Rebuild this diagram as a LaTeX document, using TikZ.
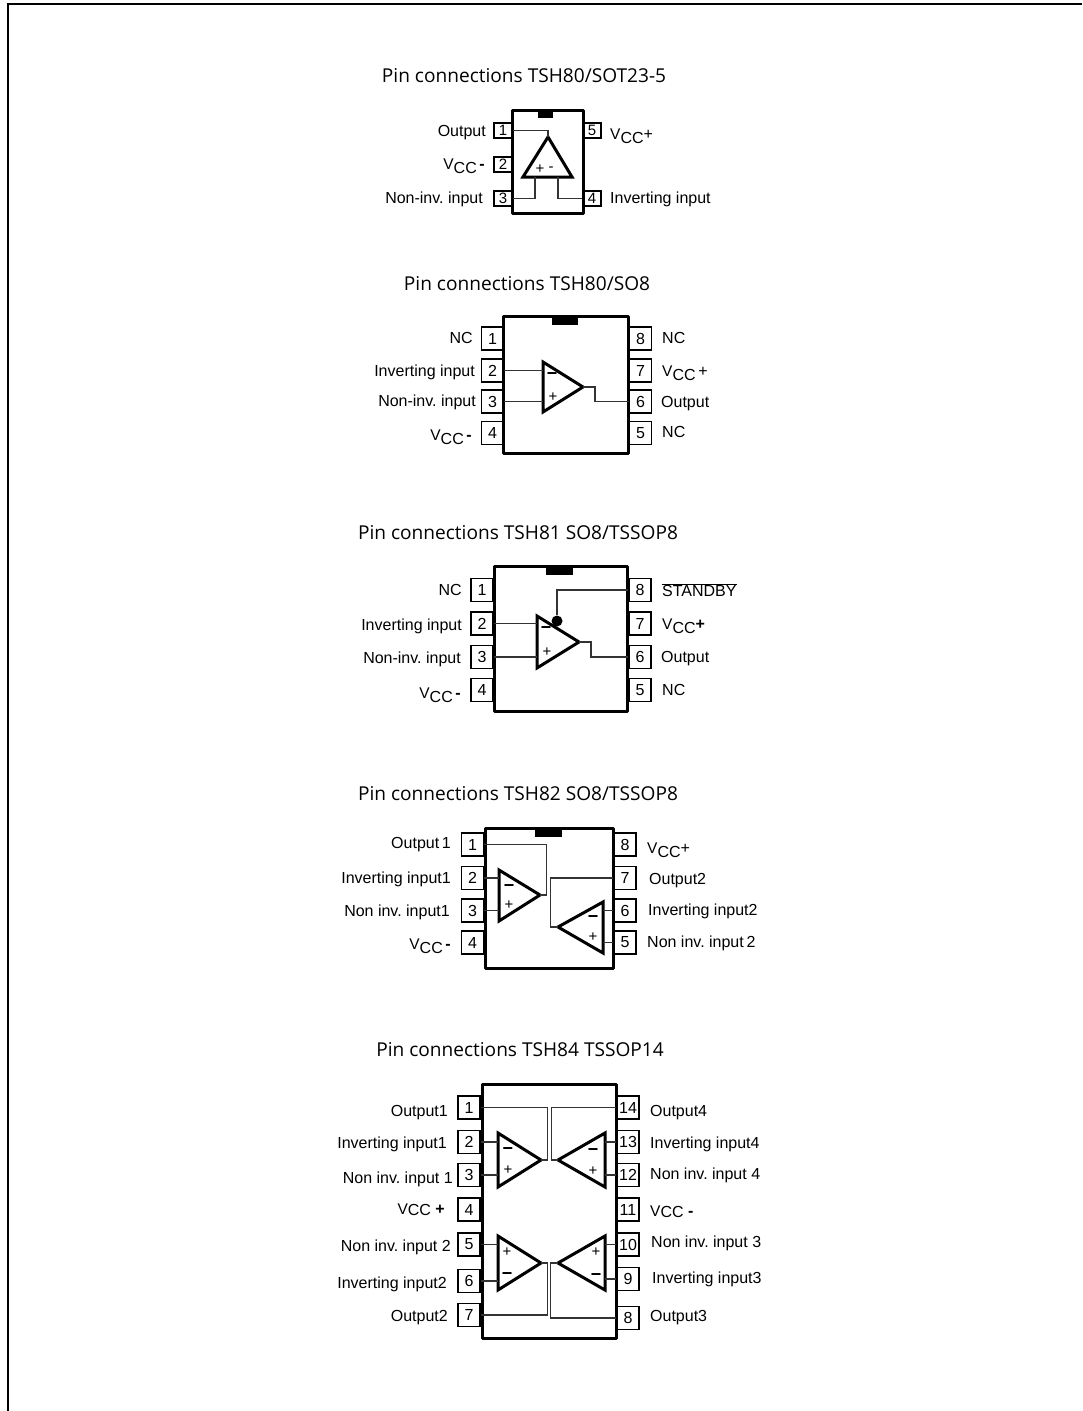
\documentclass[tikz,border=0pt]{standalone}
\usepackage{fontspec}
\usepackage{tikz}
\setmainfont{Liberation Sans}
\newfontfamily\titlefont{Open Sans}
\frenchspacing
\newcommand{\vcc}{{\fontsize{15.5}{15.5}\selectfont V}\raisebox{-3.5pt}{CC}}
\newcommand{\vccflat}{{\fontsize{15.5}{15.5}\selectfont V}\raisebox{-1pt}{CC}}
\tikzset{
  pinbox/.style={draw,line width=1.6pt,minimum width=22pt,minimum height=23pt,inner sep=0pt,font=\fontsize{16}{18}\selectfont},
  smallpin/.style={pinbox,minimum width=18pt,minimum height=15pt,font=\fontsize{15}{15}\selectfont},
  lbl/.style={inner sep=0pt,text height=11.5pt,text depth=0pt,font=\fontsize{16}{18}\selectfont},
  lbll/.style={lbl,anchor=east},
  lblr/.style={lbl,anchor=west},
  titlelbl/.style={inner sep=0pt,font=\titlefont\fontsize{19.1}{22}\selectfont},
  sign/.style={inner sep=0pt,font=\fontsize{15}{15}\selectfont},
  minusbar/.style={inner sep=0pt,font=\bfseries\fontsize{18}{18}\selectfont},
  body/.style={line width=3pt,line join=round},
  notch/.style={fill=black},
  opamp/.style={line width=3pt,line join=miter},
  wire/.style={line width=1.1pt,black!80}
}
\begin{document}
\begin{tikzpicture}[x=1pt,y=-1pt]
\useasboundingbox (0,0) rectangle (1082,1411);
\draw[line width=2pt] (8,1411) -- (8,3.5) -- (1082,3.5);

\node[titlelbl] (ta) at (524,76) {Pin connections TSH80/SOT23-5};
\draw[body] (512,110) rectangle (583,213);
\fill[notch] (538,110) rectangle (553,118);
\node[smallpin] (a1) at (503,130.5) {1};
\node[smallpin] (a2) at (503,164.5) {2};
\node[smallpin] (a3) at (503,198.5) {3};
\node[smallpin] (a4) at (592,198.5) {4};
\node[smallpin] (a5) at (592,130.5) {5};
\node[lbll] (la1) at (486,131) {Output};
\node[lbll] (la2) at (485,164) {\vcc\,\textbf{-}};
\node[lbll] (la3) at (483,198) {Non-inv. input};
\node[lblr] (la4) at (610,198) {Inverting input};
\node[lblr] (la5) at (610,134) {\vcc+};
\coordinate (atop) at (548,137);
\coordinate (al) at (523,177);
\coordinate (ar) at (572,177);
\coordinate (ap) at (535,177);
\coordinate (am) at (558,177);
\draw[opamp] (atop) -- (al) -- (ar) -- cycle;
\draw[wire] (a1.east) -| (atop);
\draw[wire] (a3.east) -| (ap);
\draw[wire] (a4.west) -| (am);
\node[sign] (apl) at (540,169) {+};
\node[sign] (ami) at (551,169) {-};

\node[titlelbl] (tb) at (527,284) {Pin connections TSH80/SO8};
\draw[body] (503,316) rectangle (628,453);
\fill[notch] (552,316) rectangle (578,325);
\node[pinbox] (b1) at (492.5,338.5) {1};
\node[pinbox] (b2) at (492.5,370.5) {2};
\node[pinbox] (b3) at (492.5,401.5) {3};
\node[pinbox] (b4) at (492.5,433) {4};
\node[pinbox] (b5) at (640.5,433) {5};
\node[pinbox] (b6) at (640.5,401.5) {6};
\node[pinbox] (b7) at (640.5,370.5) {7};
\node[pinbox] (b8) at (640.5,338.5) {8};
\node[lbll] (lb1) at (473,338) {NC};
\node[lbll] (lb2) at (475,371) {Inverting input};
\node[lbll] (lb3) at (476,401) {Non-inv. input};
\node[lbll] (lb4) at (472,435) {\vcc\,\textbf{-}};
\node[lblr] (lb5) at (662,432) {NC};
\node[lblr] (lb6) at (661,402) {Output};
\node[lblr] (lb7) at (662,371) {\vcc\,+};
\node[lblr] (lb8) at (662,338) {NC};
\coordinate (bt) at (543,362);
\coordinate (bb) at (543,412);
\coordinate (bo) at (583,387);
\draw[opamp] (bt) -- (bb) -- (bo) -- cycle;
\draw[wire] (b2.east) -- (b2.east -| bt);
\draw[wire] (b3.east) -- (b3.east -| bt);
\draw[wire] (bo) -- ++(12,0) |- (b6.west);
\node[minusbar] (bmi) at (552,376) {−};
\node[sign] (bpl) at (553,397) {+};

\node[titlelbl] (tc) at (518,533) {Pin connections TSH81 SO8/TSSOP8};
\draw[body] (494,566) rectangle (627,711);
\fill[notch] (546,566) rectangle (573,575);
\node[pinbox] (c1) at (482,590) {1};
\node[pinbox] (c2) at (482,623.5) {2};
\node[pinbox] (c3) at (482,657) {3};
\node[pinbox] (c4) at (482,690) {4};
\node[pinbox] (c5) at (640,690) {5};
\node[pinbox] (c6) at (640,657) {6};
\node[pinbox] (c7) at (640,623.5) {7};
\node[pinbox] (c8) at (640,590) {8};
\node[lbll] (lc1) at (462,590) {NC};
\node[lbll] (lc2) at (462,625) {Inverting input};
\node[lbll] (lc3) at (461,658) {Non-inv. input};
\node[lbll] (lc4) at (461,693) {\vcc\,\textbf{-}};
\node[lblr] (lc5) at (662,690) {NC};
\node[lblr] (lc6) at (661,657) {Output};
\node[lblr] (lc7) at (662,624) {\vcc\textbf{+}};
\node[lblr] (lc8) at (662,591) {$\overline{\mbox{STANDBY}}$};
\coordinate (ct) at (537,616);
\coordinate (cb) at (537,668);
\coordinate (co) at (579,642);
\draw[opamp] (ct) -- (cb) -- (co) -- cycle;
\draw[wire] (c2.east) -- (c2.east -| ct);
\draw[wire] (c3.east) -- (c3.east -| ct);
\draw[wire] (co) -- ++(12,0) |- (c6.west);
\node[circle,fill=black,inner sep=0pt,minimum size=11pt] (cdot) at (557,621) {};
\draw[wire] (c8.west) -| (cdot);
\node[minusbar] (cmi) at (546,630) {−};
\node[sign] (cpl) at (547,652) {+};

\node[titlelbl] (td) at (518,794) {Pin connections TSH82 SO8/TSSOP8};
\draw[body] (485,828) rectangle (613,968);
\fill[notch] (535,828) rectangle (562,837);
\node[pinbox] (d1) at (472.5,844.5) {1};
\node[pinbox] (d2) at (472.5,878) {2};
\node[pinbox] (d3) at (472.5,910.5) {3};
\node[pinbox] (d4) at (472.5,942.5) {4};
\node[pinbox] (d5) at (625,942.5) {5};
\node[pinbox] (d6) at (625,910.5) {6};
\node[pinbox] (d7) at (625,878) {7};
\node[pinbox] (d8) at (625,844.5) {8};
\node[lbll] (ld1) at (451,843) {Output\,1};
\node[lbll] (ld2) at (451,878) {Inverting input1};
\node[lbll] (ld3) at (450,911) {Non inv. input1};
\node[lbll] (ld4) at (451,944) {\vcc\,\textbf{-}};
\node[lblr] (ld5) at (647,942) {Non inv. input\,2};
\node[lblr] (ld6) at (648,910) {Inverting input2};
\node[lblr] (ld7) at (649,879) {Output2};
\node[lblr] (ld8) at (647,848) {\vcc+};
\coordinate (dat) at (499,870);
\coordinate (dab) at (499,921);
\coordinate (dao) at (540,895);
\coordinate (dbt) at (603,902);
\coordinate (dbb) at (603,953);
\coordinate (dbo) at (558,927);
\draw[opamp] (dat) -- (dab) -- (dao) -- cycle;
\draw[opamp] (dbt) -- (dbb) -- (dbo) -- cycle;
\draw[wire] (d1.east) -- ++(62.5,0) |- (dao);
\draw[wire] (d2.east) -- (d2.east -| dat);
\draw[wire] (d3.east) -- (d3.east -| dat);
\draw[wire] (d7.west) -- ++(-63,0) |- (dbo);
\draw[wire] (d6.west) -- (d6.west -| dbt);
\draw[wire] (d5.west) -- (d5.west -| dbt);
\node[minusbar] (dami) at (509,888) {−};
\node[sign] (dapl) at (509,905) {+};
\node[minusbar] (dbmi) at (593,919) {−};
\node[sign] (dbpl) at (593,937) {+};

\node[titlelbl] (te) at (520,1050) {Pin connections TSH84 TSSOP14};
\draw[body] (482,1084) rectangle (616,1338);
\node[pinbox] (e1) at (469,1107.5) {1};
\node[pinbox] (e2) at (469,1142) {2};
\node[pinbox] (e3) at (469,1175) {3};
\node[pinbox] (e4) at (469,1209.5) {4};
\node[pinbox] (e5) at (469,1244.5) {5};
\node[pinbox] (e6) at (469,1281) {6};
\node[pinbox] (e7) at (469,1315) {7};
\node[pinbox] (e8) at (628,1318) {8};
\node[pinbox] (e9) at (628,1279) {9};
\node[pinbox] (e10) at (628,1244.5) {10};
\node[pinbox] (e11) at (628,1209.5) {11};
\node[pinbox] (e12) at (628,1175) {12};
\node[pinbox] (e13) at (628,1142) {13};
\node[pinbox] (e14) at (628,1107.5) {14};
\node[lbll] (le1) at (448,1111) {Output1};
\node[lbll] (le2) at (447,1143) {Inverting input1};
\node[lbll] (le3) at (453,1178) {Non inv. input 1};
\node[lbll] (le4) at (445,1209) {\vccflat\ \textbf{+}};
\node[lbll] (le5) at (451,1246) {Non inv. input 2};
\node[lbll] (le6) at (447,1283) {Inverting input2};
\node[lbll] (le7) at (448,1316) {Output2};
\node[lblr] (le8) at (650,1316) {Output3};
\node[lblr] (le9) at (652,1278) {Inverting input3};
\node[lblr] (le10) at (651,1242) {Non inv. input 3};
\node[lblr] (le11) at (650,1211) {\vccflat\ \textbf{-}};
\node[lblr] (le12) at (650,1174) {Non inv. input 4};
\node[lblr] (le13) at (650,1143) {Inverting input4};
\node[lblr] (le14) at (650,1111) {Output4};
\coordinate (eat) at (498,1133);
\coordinate (eab) at (498,1187);
\coordinate (eao) at (541,1160);
\coordinate (edt) at (605,1133);
\coordinate (edb) at (605,1187);
\coordinate (edo) at (558,1160);
\coordinate (ebt) at (498,1236);
\coordinate (ebb) at (498,1290);
\coordinate (ebo) at (541,1263);
\coordinate (ect) at (605,1236);
\coordinate (ecb) at (605,1290);
\coordinate (eco) at (558,1263);
\draw[opamp] (eat) -- (eab) -- (eao) -- cycle;
\draw[opamp] (edt) -- (edb) -- (edo) -- cycle;
\draw[opamp] (ebt) -- (ebb) -- (ebo) -- cycle;
\draw[opamp] (ect) -- (ecb) -- (eco) -- cycle;
\draw[wire] (e1.east) -- ++(67,0) |- (eao);
\draw[wire] (e14.west) -- ++(-65,0) |- (edo);
\draw[wire] (e7.east) -- ++(67,0) |- (ebo);
\draw[wire] (e8.west) -- ++(-66,0) |- (eco);
\draw[wire] (e2.east) -- (e2.east -| eat);
\draw[wire] (e3.east) -- (e3.east -| eat);
\draw[wire] (e5.east) -- (e5.east -| ebt);
\draw[wire] (e6.east) -- (e6.east -| ebt);
\draw[wire] (e13.west) -- (e13.west -| edt);
\draw[wire] (e12.west) -- (e12.west -| edt);
\draw[wire] (e10.west) -- (e10.west -| ect);
\draw[wire] (e9.west) -- (e9.west -| ect);
\node[minusbar] (eami) at (508,1151) {−};
\node[sign] (eapl) at (508,1170) {+};
\node[minusbar] (edmi) at (593,1152) {−};
\node[sign] (edpl) at (593,1171) {+};
\node[sign] (ebpl) at (507,1252) {+};
\node[minusbar] (ebmi) at (507,1276) {−};
\node[sign] (ecpl) at (596,1252) {+};
\node[minusbar] (ecmi) at (596,1277) {−};
\end{tikzpicture}
\end{document}
